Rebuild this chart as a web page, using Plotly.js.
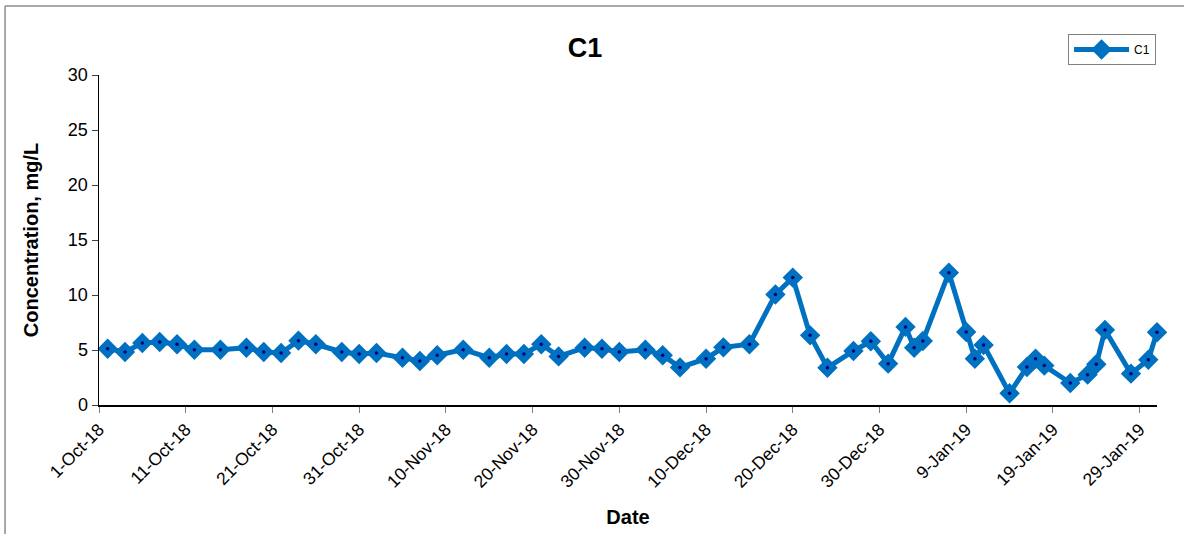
<!DOCTYPE html>
<html>
<head>
<meta charset="utf-8">
<script src="https://cdn.plot.ly/plotly-3.0.1.min.js"></script>
<style>html,body{margin:0;padding:0;background:#fff;}#chart{width:1184px;height:534px;}</style>
</head>
<body>
<div id="chart"></div>
<script>
const dates = ["2018-10-02","2018-10-04","2018-10-06","2018-10-08","2018-10-10","2018-10-12","2018-10-15","2018-10-18","2018-10-20","2018-10-22","2018-10-24","2018-10-26","2018-10-29","2018-10-31","2018-11-02","2018-11-05","2018-11-07","2018-11-09","2018-11-12","2018-11-15","2018-11-17","2018-11-19","2018-11-21","2018-11-23","2018-11-26","2018-11-28","2018-11-30","2018-12-03","2018-12-05","2018-12-07","2018-12-10","2018-12-12","2018-12-15","2018-12-18","2018-12-20","2018-12-22","2018-12-24","2018-12-27","2018-12-29","2018-12-31","2019-01-02","2019-01-03","2019-01-04","2019-01-07","2019-01-09","2019-01-10","2019-01-11","2019-01-14","2019-01-16","2019-01-17","2019-01-18","2019-01-21","2019-01-23","2019-01-24","2019-01-25","2019-01-28","2019-01-30","2019-01-31"];
const c1Values = [5.12,4.82,5.64,5.73,5.52,5.03,5.03,5.21,4.82,4.73,5.85,5.52,4.82,4.64,4.73,4.30,4.00,4.52,5.03,4.30,4.64,4.64,5.52,4.42,5.21,5.12,4.82,5.03,4.52,3.42,4.21,5.24,5.52,10.05,11.58,6.33,3.39,4.91,5.79,3.76,7.10,5.21,5.82,12.03,6.64,4.21,5.45,1.06,3.45,4.21,3.58,2.00,2.76,3.70,6.82,2.85,4.12,6.61];
const tickDates = ["2018-10-01","2018-10-11","2018-10-21","2018-10-31","2018-11-10","2018-11-20","2018-11-30","2018-12-10","2018-12-20","2018-12-30","2019-01-09","2019-01-19","2019-01-29"];
const tickLabels = ["1-Oct-18","11-Oct-18","21-Oct-18","31-Oct-18","10-Nov-18","20-Nov-18","30-Nov-18","10-Dec-18","20-Dec-18","30-Dec-18","9-Jan-19","19-Jan-19","29-Jan-19"];
const yTicks = [0,5,10,15,20,25,30];

const blue = '#0070C0', navy = '#000080';
const FONT = 'Liberation Sans, Arial, sans-serif';

const traces = [
  {
    x: dates, y: c1Values, type: 'scatter', mode: 'lines+markers', name: 'C1',
    line: {color: blue, width: 5},
    marker: {symbol: 'diamond', size: 13, color: blue, line: {color: blue, width: 2.5}},
    cliponaxis: false
  },
  {
    x: dates, y: c1Values, type: 'scatter', mode: 'markers', showlegend: false, hoverinfo: 'skip',
    marker: {symbol: 'circle', size: 3.5, color: navy},
    cliponaxis: false
  }
];

const L = 98.5, R = 1157, T = 75, B = 405;
const W = R - L, H = B - T;
const px = v => (v - L) / W;
const py = v => (B - v) / H;

const layout = {
  width: 1184, height: 534,
  margin: {l: L, r: 1184 - R, t: T, b: 534 - B},
  paper_bgcolor: '#fff', plot_bgcolor: '#fff',
  font: {family: FONT, color: '#000'},
  title: {text: '<b>C1</b>', font: {size: 27, family: FONT, color: '#000'}, x: 585/1184, xanchor: 'center', y: 1 - 48/534, yanchor: 'middle'},
  xaxis: {
    type: 'date', range: ['2018-10-01', '2019-01-31'],
    tickvals: tickDates, ticktext: tickLabels, tickangle: -45,
    tickfont: {size: 17.5, family: FONT, color: '#000'},
    ticks: 'outside', ticklen: 6, tickcolor: '#808080', tickwidth: 1,
    showline: true, linecolor: '#000', linewidth: 1.5,
    showgrid: false, zeroline: false,
    title: {text: '<b>Date</b>', font: {size: 20, family: FONT, color: '#000'}, standoff: 19}
  },
  yaxis: {
    range: [0, 30], tickvals: yTicks,
    tickfont: {size: 18, family: FONT, color: '#000'},
    ticks: 'outside', ticklen: 6, tickcolor: '#404040', tickwidth: 1,
    showline: true, linecolor: '#000', linewidth: 1.5,
    showgrid: false, zeroline: false,
    title: {text: '<b>Concentration, mg/L</b>', font: {size: 20, family: FONT, color: '#000'}, standoff: 24}
  },
  legend: {
    x: px(1068), y: py(34), xanchor: 'left', yanchor: 'top',
    bordercolor: '#808080', borderwidth: 1, bgcolor: '#fff',
    font: {size: 12, family: FONT, color: '#000'},
    itemwidth: 55
  },
  shapes: [
    {type: 'line', xref: 'paper', yref: 'paper', x0: px(4.5), x1: px(4.5), y0: py(545), y1: py(6),
     line: {color: '#8c8c8c', width: 1.5}, layer: 'below'},
    {type: 'line', xref: 'paper', yref: 'paper', x0: px(4.5), x1: px(1195), y0: py(6), y1: py(6),
     line: {color: '#8c8c8c', width: 1.5}, layer: 'below'}
  ],
  showlegend: true
};

Plotly.newPlot('chart', traces, layout, {displayModeBar: false, staticPlot: true});
</script>
</body>
</html>
